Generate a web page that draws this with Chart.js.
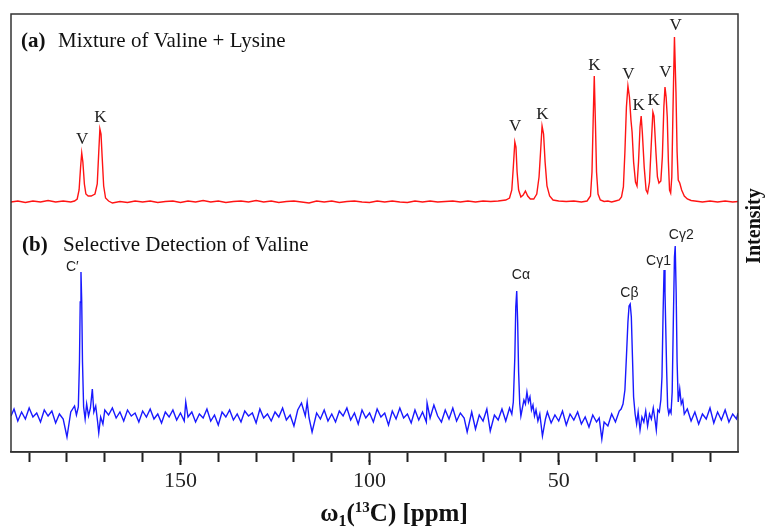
<!DOCTYPE html>
<html>
<head>
<meta charset="utf-8">
<script src="https://cdn.jsdelivr.net/npm/chart.js@4/dist/chart.umd.min.js"></script>
<style>
  body { margin: 0; background: #fff; }
  #wrap { width: 765px; height: 527px; }
</style>
</head>
<body>
<div id="wrap"><canvas id="nmr"></canvas></div>
<script>
// (ppm, intensity)
const redSpectrum = [
  [194.8,250],[193,251],[191,249.5],[189,251],[187,250],[185,251.5],[183,250],[181,251],[179,250],[178,251],
  [177.3,253],[176.8,262],[176.4,285],[176.1,299],[175.8,290],[175.4,268],[175.0,258],[174.4,256],[173.6,256],[172.6,258],
  [172.0,268],[171.6,300],[171.3,323],[171.0,318],[170.7,295],[170.3,266],[169.8,254],[169,251],[168,249],[166,250.5],
  [164,249.5],[162,251],[160,250],[158,251],[156,249.5],[154,250.5],[152,251],[150,249.5],[148,251],[146,250],
  [144,251.5],[142,250],[140,251],[138,249.5],[136,250.5],[134,251],[132,250],[130,251.5],[128,250],[126,251],
  [124,249.5],[122,250.5],[120,251],[118,250],[116,249],[114,251],[112,250],[110,251],[108,249.5],[106,250.5],
  [104,251],[102,250],[100,249.5],[98,251],[96,250],[94,251],[92,250],[90,249.5],[88,251],[86,250],
  [84,251],[82,250],[80,250.5],[78,251],[76,250],[74,251],[72,250],[70,251],[68,250.5],[66,251],
  [64,252],[63,254],[62.4,262],[62.0,285],[61.6,310],[61.3,305],[61.0,280],[60.6,262],[60.0,255],[59.4,257],
  [58.8,261],[58.2,256],[57.5,253],[56.6,253],[55.8,258],[55.2,275],[54.8,300],[54.4,326],[54.0,318],[53.6,290],
  [53.1,266],[52.4,256],[51.5,252],[50,251],[48,250.5],[46,251],[44,250],[42.5,251],[41.6,256],[41.2,280],
  [40.9,330],[40.6,376],[40.3,330],[40.0,280],[39.6,258],[39.0,252],[38,250.5],[37,251],[36,250],[35,251],
  [34,252],[33.4,255],[32.9,265],[32.5,300],[32.1,345],[31.7,366],[31.3,355],[30.9,332],[30.6,320],[30.2,290],
  [29.7,270],[29.3,266],[28.9,290],[28.5,325],[28.2,336],[27.9,320],[27.4,285],[26.9,262],[26.5,259],[26.0,270],
  [25.5,310],[25.1,340],[24.8,336],[24.3,300],[23.9,275],[23.5,269],[23.0,271],[22.6,295],[22.2,345],[21.9,365],
  [21.6,355],[21.3,335],[21.0,290],[20.7,262],[20.4,259],[20.1,275],[19.8,340],[19.4,415],[19.0,360],[18.7,300],
  [18.4,272],[18.0,269],[17.5,262],[16.8,256],[16,253],[15,251.5],[14,251],[12,250],[10,251],[8,250],
  [6,251],[4,250],[2.6,250.5]
];

const blueSpectrum = [
  [194.8,36],[194,43],[193,31],[192,40],[191,33],[190,44],[189,35],[188,39],[187,30],[186,42],
  [185,36],[184,41],[183,29],[182,38],[181,33],[180,15],[179,40],[178,46],[177.5,37],
  [177.0,45],[176.7,90],[176.5,150],[176.3,180],[176.1,150],[175.9,90],[175.6,45],[175.2,33],[174.8,48],[174.3,36],
  [173.8,44],[173.3,63],[172.9,40],[172.4,46],[171.9,30],[171.6,19],[171.1,35],[170.5,28],[170,42],
  [169,37],[168,44],[167,34],[166,40],[165,31],[164,42],[163,36],[162,39],[161,30],[160,41],
  [159,35],[158,43],[157,33],[156,38],[155,29],[154,40],[153,35],[152,42],[151,32],[150,39],
  [149,31],[148.6,50],[148,35],[147,40],[146,30],[145,38],[144,34],[143,43],[142,31],[141,37],
  [140,27],[139,40],[138,35],[137,42],[136,32],[135,38],[134,30],[133,41],[132,36],[131,39],
  [130,29],[129,43],[128,34],[127,38],[126,31],[125,40],[124,35],[123,44],[122,32],[121,37],
  [120,26],[119,42],[118,49],[117,36],[116.5,50],[116,34],[115.2,20],[114,39],[113,33],[112,42],
  [111,31],[110,38],[109,30],[108,41],[107,36],[106,44],[105,32],[104,39],[103,28],[102,42],
  [101,34],[100,39],[99,30],[98,43],[97,35],[96,39],[95,27],[94,41],[93,33],[92,44],
  [91,34],[90,38],[89,29],[88,42],[87,32],[86,40],[85,30],[84.8,49],[84,34],[83,47],
  [82,36],[81,30],[80,42],[79,33],[78,44],[77,31],[76,39],[75,34],[74.2,20],[73,40],
  [72,23],[71,37],[70,31],[69,43],[68.1,21],[67,37],[66,32],[65,43],[64,31],[63,44],[62.4,38],
  [62.0,50],[61.6,95],[61.35,145],[61.1,161],[60.85,130],[60.6,80],[60.3,48],[60.0,36],[59.6,44],[59.2,52],
  [58.8,48],[58.4,60],[58.0,50],[57.6,55],[57.2,42],[56.8,47],[56.4,36],[56,42],[55.5,31],[55,38],
  [54.3,16],[53.5,33],[53,40],[52,29],[51,37],[50,31],[49,41],[48,27],[47,38],[46,32],
  [45,40],[44,28],[43,35],[42,25],[41,37],[40,30],[39.3,34],[38.6,13],[38,30],[37,26],
  [36,38],[35,30],[34,41],[33.5,43],
  [33.0,48],[32.5,62],[32.1,95],[31.7,130],[31.4,146],[31.1,148],[30.8,135],[30.5,95],[30.2,55],[29.8,38],
  [29.4,28],[29,40],[28.5,22],[28,35],[27.5,30],[27,41],[26.5,26],[26,38],[25.5,33],[25,44],
  [24.5,31],[24.2,22],[23.8,42],[23.4,40],
  [23.0,52],[22.7,75],[22.4,140],[22.15,182],[21.9,160],[21.7,124],[21.45,80],[21.2,45],[20.9,38],[20.6,42],
  [20.3,39],[20.0,60],[19.7,130],[19.4,195],[19.2,206],[18.95,160],[18.7,90],[18.4,50],[18.0,63],[17.6,48],
  [17.2,52],[16.8,38],[16,43],[15,31],[14,40],[13,28],[12,38],[11,33],[10,44],[9,29],
  [8,40],[7,32],[6,42],[5,30],[4,38],[3,33],[2.6,39]
];

// peak assignments
const redLabels   = ['V', 'K', 'V', 'K', 'K', 'V', 'K', 'K', 'V', 'V'];
const redLabelPpm = [176.0, 171.2, 61.5, 54.3, 40.6, 31.6, 28.9, 24.9, 21.8, 19.1];
const redLabelInt = [312, 334, 325, 337, 386, 377, 346, 351, 379, 426];

const blueLabels   = ['C\u2032', 'C\u03b1', 'C\u03b2', 'C\u03b31', 'C\u03b32'];
const blueLabelPpm = [178.6, 60.0, 31.3, 23.6, 17.6];
const blueLabelInt = [185, 177, 159, 191, 217];

const tickLabels = [150, 100, 50];

const toXY = arr => arr.map(p => ({ x: p[0], y: p[1] }));

const textPlugin = {
    id: 'nmrText',
    afterDatasetsDraw(chart) {
        const { ctx, chartArea: a, scales: { x, y } } = chart;
        ctx.save();

        // frame
        ctx.strokeStyle = '#333';
        ctx.lineWidth = 1.5;
        ctx.strokeRect(a.left, a.top, a.right - a.left, a.bottom - a.top);

        // longer ticks at the labelled values
        ctx.strokeStyle = '#222';
        ctx.lineWidth = 2;
        tickLabels.forEach(v => {
            const px = x.getPixelForValue(v);
            ctx.beginPath();
            ctx.moveTo(px, a.bottom + 8);
            ctx.lineTo(px, a.bottom + 13);
            ctx.stroke();
        });

        ctx.textAlign = 'center';
        ctx.textBaseline = 'middle';
        ctx.fillStyle = '#222';
        ctx.font = '17px "Liberation Serif"';
        redLabels.forEach((t, i) => {
            ctx.fillText(t, x.getPixelForValue(redLabelPpm[i]), y.getPixelForValue(redLabelInt[i]));
        });
        ctx.font = '14px "Liberation Sans"';
        blueLabels.forEach((t, i) => {
            ctx.fillText(t, x.getPixelForValue(blueLabelPpm[i]), y.getPixelForValue(blueLabelInt[i]));
        });

        // panel titles
        ctx.textAlign = 'left';
        ctx.textBaseline = 'alphabetic';
        ctx.fillStyle = '#111';
        ctx.font = 'bold 21px "Liberation Serif"';
        ctx.fillText('(a)', 21, 47);
        ctx.fillText('(b)', 22, 251);
        ctx.font = '21px "Liberation Serif"';
        ctx.fillText('Mixture of Valine + Lysine', 58, 47);
        ctx.fillText('Selective Detection of Valine', 63, 251);

        // x axis title: ω1(13C) [ppm]
        const parts = [
            ['\u03c9', 'bold 25px "Liberation Serif"', 0],
            ['1', 'bold 16px "Liberation Serif"', 5],
            ['(', 'bold 25px "Liberation Serif"', 0],
            ['13', 'bold 15px "Liberation Serif"', -9],
            ['C) [ppm]', 'bold 25px "Liberation Serif"', 0]
        ];
        let w = 0;
        parts.forEach(p => { ctx.font = p[1]; w += ctx.measureText(p[0]).width; });
        let cx = 394 - w / 2;
        parts.forEach(p => {
            ctx.font = p[1];
            ctx.fillText(p[0], cx, 521 + p[2]);
            cx += ctx.measureText(p[0]).width;
        });

        // right side label
        ctx.translate(755, 226);
        ctx.rotate(-Math.PI / 2);
        ctx.textAlign = 'center';
        ctx.textBaseline = 'middle';
        ctx.font = 'bold 20px "Liberation Serif"';
        ctx.fillText('Intensity', 0, 0);
        ctx.restore();
    }
};

new Chart(document.getElementById('nmr'), {
    type: 'line',
    data: {
        datasets: [{
            label: 'Mixture',
            data: toXY(redSpectrum),
            borderColor: 'rgb(255,20,20)',
            borderWidth: 1.4,
            pointRadius: 0,
            tension: 0
        }, {
            label: 'Valine',
            data: toXY(blueSpectrum),
            borderColor: 'rgb(25,25,255)',
            borderWidth: 1.4,
            pointRadius: 0,
            tension: 0
        }]
    },
    options: {
        responsive: true,
        maintainAspectRatio: false,
        animation: false,
        layout: { padding: { left: 11, right: 27, top: 14, bottom: 0 } },
        plugins: { legend: { display: false }, tooltip: { enabled: false } },
        scales: {
            x: {
                type: 'linear',
                reverse: true,
                min: 2.6,
                max: 194.8,
                afterFit: s => { s.height = 75; },
                border: { display: true, color: '#333', width: 1.5 },
                grid: { drawOnChartArea: false, drawTicks: true, tickLength: 10, tickColor: '#222', tickWidth: 2 },
                ticks: {
                    stepSize: 10,
                    includeBounds: false,
                    autoSkip: false,
                    maxRotation: 0,
                    padding: 6,
                    color: '#222',
                    font: { family: 'Liberation Serif', size: 22 },
                    callback: v => tickLabels.includes(v) ? String(v) : ''
                }
            },
            y: { display: false, min: 0, max: 438 }
        }
    },
    plugins: [textPlugin]
});
</script>
</body>
</html>
